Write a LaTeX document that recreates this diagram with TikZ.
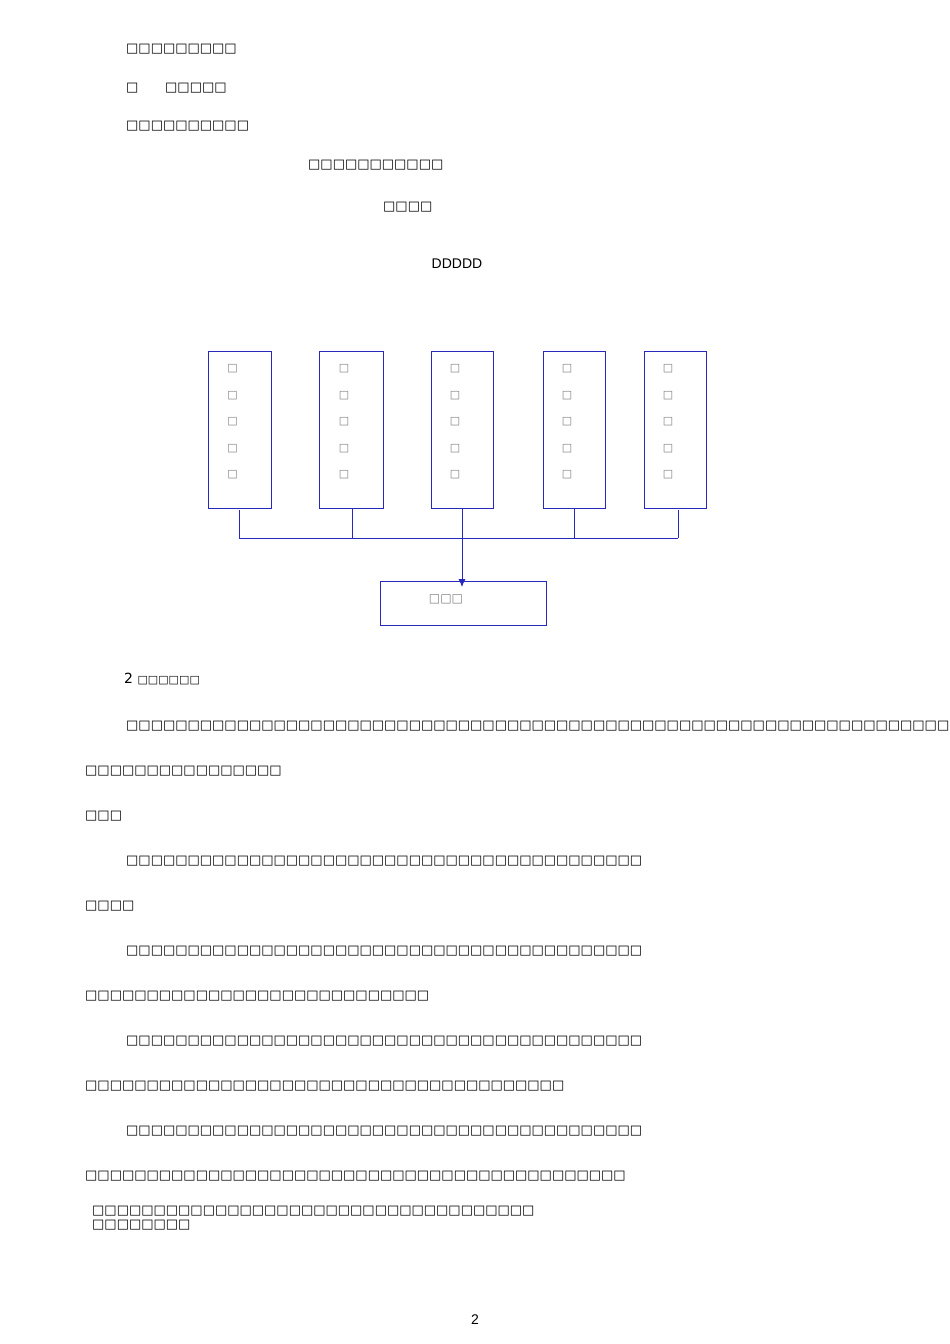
\documentclass[tikz,border=0pt]{standalone}
\usepackage{fontspec}
\usetikzlibrary{arrows.meta}
\setmainfont{DejaVu Sans}
\newfontfamily\lsans{Liberation Sans}
\newcommand\bxs[1]{\foreach\i in {1,...,#1}{□}}
\begin{document}
\begin{tikzpicture}[x=1pt,y=-1pt,
  t/.style={anchor=west,inner sep=0pt,font=\fontsize{13}{13}\selectfont},
  col/.style={draw={rgb,255:red,40;green,40;blue,190},line width=0.8pt},
  vb/.style={col,minimum width=63pt,minimum height=157pt,anchor=north west,inner sep=0pt},
  vt/.style={font=\fontsize{11}{26.5}\selectfont,text=gray,align=center}]
\useasboundingbox (0,0) rectangle (950,1344);
\node[t] (l1) at (126,49) {\bxs{9}};
\node[t] (l2a) at (126,88) {□};
\node[t] (l2b) at (165,88) {\bxs{5}};
\node[t] (l3) at (126,126) {\bxs{10}};
\node[t] (l4) at (308,165) {\bxs{11}};
\node[t] (l5) at (383,207) {\bxs{4}};
\node[inner sep=0pt,font=\lsans\fontsize{14}{14}\selectfont] (dd) at (457,264) {DDDDD};
\foreach \x/\w/\n in {208/63/a,319/64/b,431/62/c,543/62/d,644/62/e}{
  \node[vb,minimum width=\w pt] (\n) at (\x,351) {};
  \node[vt] at (\x+\w/2-7,422) {□\\□\\□\\□\\□};
}
\node[col,minimum width=166pt,minimum height=44pt,anchor=north west,inner sep=0pt] (out) at (380,581) {};
\node[inner sep=0pt,font=\fontsize{12}{12}\selectfont,text=gray] at (446,599) {□□□};
\coordinate (j) at (462,538);
\draw[col] (239,510) -- (239,538) -- (678,538);
\draw[col] (352,508) -- (352,538);
\draw[col] (462,508) -- (j);
\draw[col] (574,508) -- (574,538);
\draw[col] (678,510) -- (678,538);
\draw[col,-{Latex[length=8pt,width=7pt]}] (j) -- ([yshift=-6pt]out.north -| j);
\node[anchor=west,inner sep=0pt,font=\fontsize{14}{14}\selectfont] (h2) at (124,679) {2 \fontsize{11}{11}\selectfont□□□□□□};
\node[t] at (126,726) {\bxs{70}};
\node[t] at (85,771) {\bxs{16}};
\node[t] at (85,816) {\bxs{3}};
\node[t] at (126,861) {\bxs{42}};
\node[t] at (85,906) {\bxs{4}};
\node[t] at (126,951) {\bxs{42}};
\node[t] at (85,996) {\bxs{28}};
\node[t] at (126,1041) {\bxs{42}};
\node[t] at (85,1086) {\bxs{39}};
\node[t] at (126,1131) {\bxs{42}};
\node[t] at (85,1176) {\bxs{44}};
\node[t] at (92,1211) {\bxs{36}};
\node[t] at (92,1225) {\bxs{8}};
\node[inner sep=0pt,font=\lsans\fontsize{14}{14}\selectfont] at (475,1320) {2};
\end{tikzpicture}
\end{document}
